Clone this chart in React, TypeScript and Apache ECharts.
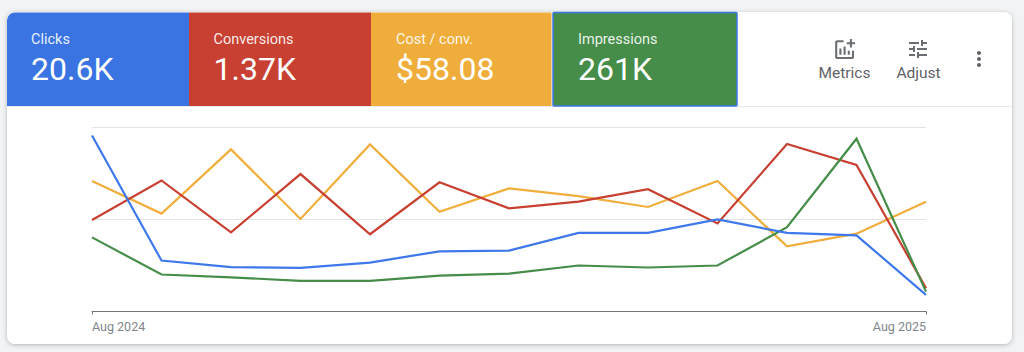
import React, { useEffect, useRef } from "react";
import * as echarts from "echarts";

const categories = ["Aug 2024","Sep 2024","Oct 2024","Nov 2024","Dec 2024","Jan 2025","Feb 2025","Mar 2025","Apr 2025","May 2025","Jun 2025","Jul 2025","Aug 2025"];
const clicks = [95.7,27.7,24.1,23.7,26.6,32.7,33.1,42.7,42.7,50.1,42.7,41.4,9.0];
const conversions = [49.7,71.2,43.0,74.7,42.0,70.2,56.1,59.7,66.5,47.9,91.0,79.6,12.7];
const costPerConv = [70.9,53.2,88.1,50.3,90.8,54.2,66.9,62.7,56.8,70.9,35.4,42.3,59.7];
const impressions = [40.3,20.1,18.6,16.6,16.6,19.5,20.6,25.0,23.9,25.0,45.8,93.9,10.8];
const tileLabels = ["Clicks","Conversions","Cost / conv.","Impressions"];
const tileValues = ["20.6K","1.37K","$58.08","261K"];
const tileColors = ["#3974e2","#c84032","#efae3c","#458d49"];
const lineColors = ["#3f78ea","#c84032","#f0ae3c","#458d49"];
const tools = ["Metrics","Adjust"];

const ADD_CHART = "M22 5v2h-3v3h-2V7h-3V5h3V2h2v3h3zm-3 14H5V5h6V3H5c-1.1 0-2 .9-2 2v14c0 1.1.9 2 2 2h14c1.1 0 2-.9 2-2v-6h-2v6zm-4-6v4h2v-4h-2zm-4 4h2V9h-2v8zm-2 0v-6H7v6h2z";
const TUNE = "M3 17v2h6v-2H3zM3 5v2h10V5H3zm10 16v-2h8v-2h-8v-2h-2v6h2zM7 9v2H3v2h4v2h2V9H7zm14 4v-2H11v2h10zm-6-4h2V7h4V5h-4V3h-2v6z";
const MORE = "M12 8c1.1 0 2-.9 2-2s-.9-2-2-2-2 .9-2 2 .9 2 2 2zm0 2c-1.1 0-2 .9-2 2s.9 2 2 2 2-.9 2-2-.9-2-2-2zm0 6c-1.1 0-2 .9-2 2s.9 2 2 2 2-.9 2-2-.9-2-2-2z";
echarts.graphic.registerShape("addChartIcon", echarts.graphic.extendPath(ADD_CHART, {}));
echarts.graphic.registerShape("tuneIcon", echarts.graphic.extendPath(TUNE, {}));
echarts.graphic.registerShape("moreIcon", echarts.graphic.extendPath(MORE, {}));

const FONT = "Roboto";
const tileX = [7, 189, 371, 553];
const tileW = [182, 182, 180.5, 184];
const textX = [31, 213.5, 396, 578];

export default function App() {
  const ref = useRef<HTMLDivElement>(null);
  useEffect(() => {
    const chart = echarts.init(ref.current!, null, { renderer: "svg" });
    const graphic: any[] = [
      { type: "rect", z: -10, shape: { x: 7, y: 12, width: 1005, height: 332, r: 8 },
        style: { fill: "#ffffff", shadowBlur: 4, shadowColor: "rgba(60,64,67,0.35)", shadowOffsetY: 1 } },
      { type: "line", z: -9, shape: { x1: 7, y1: 106.5, x2: 1012, y2: 106.5 }, style: { stroke: "#e8eaed", lineWidth: 1 } },
    ];
    tileLabels.forEach((label, i) => {
      graphic.push({
        type: "rect", z: -8,
        shape: { x: tileX[i], y: 12.5, width: tileW[i], height: 93.5, r: i === 0 ? [8, 0, 0, 0] : i === 3 ? 1 : 0 },
        style: i === 3
          ? { fill: tileColors[i], stroke: "#3d78e6", lineWidth: 1.5 }
          : { fill: tileColors[i] },
      });
      graphic.push({ type: "text", z: 5, x: textX[i], y: 39,
        style: { text: label, font: `400 14.5px ${FONT}`, fill: "rgba(255,255,255,0.9)", verticalAlign: "middle", textAlign: "left" } });
      graphic.push({ type: "text", z: 5, x: textX[i], y: 69,
        style: { text: tileValues[i], font: `400 32px ${FONT}`, fill: "#ffffff", verticalAlign: "middle", textAlign: "left" } });
    });
    graphic.push({ type: "addChartIcon", x: 832, y: 37, scaleX: 1.05, scaleY: 1.05, style: { fill: "#6a6e73" } });
    graphic.push({ type: "tuneIcon", x: 906, y: 37, scaleX: 1, scaleY: 1, style: { fill: "#6a6e73" } });
    graphic.push({ type: "moreIcon", x: 967, y: 47, scaleX: 1, scaleY: 1, style: { fill: "#5f6368" } });
    graphic.push({ type: "text", z: 5, x: 844.5, y: 73, style: { text: tools[0], font: `400 15.5px ${FONT}`, fill: "#5f6368", textAlign: "center", verticalAlign: "middle" } });
    graphic.push({ type: "text", z: 5, x: 918.5, y: 73, style: { text: tools[1], font: `400 15.5px ${FONT}`, fill: "#5f6368", textAlign: "center", verticalAlign: "middle" } });

    const mk = (name: string, data: number[], color: string) => ({
      name, type: "line", data, showSymbol: false, symbol: "none", smooth: false, z: 3,
      lineStyle: { color, width: 2.2, join: "miter" }, clip: true,
    });
    chart.setOption({
      animation: false,
      backgroundColor: "#f1f3f4",
      graphic,
      grid: { left: 92, right: 98, top: 127.5, bottom: 40.5, containLabel: false },
      xAxis: {
        type: "category", data: categories, boundaryGap: false,
        axisLine: { lineStyle: { color: "#757575", width: 1 } },
        axisTick: { show: true, length: 3, lineStyle: { color: "#757575" }, interval: (i: number) => i === 0 || i === categories.length - 1 },
        axisLabel: {
          color: "#80868b", fontFamily: FONT, fontSize: 12.5, margin: 8, showMinLabel: true, showMaxLabel: true,
          interval: (i: number) => i === 0 || i === categories.length - 1,
          alignMinLabel: "left", alignMaxLabel: "right",
        },
        splitLine: { show: false },
      },
      yAxis: {
        type: "value", min: 0, max: 100, interval: 50,
        axisLine: { show: false }, axisTick: { show: false }, axisLabel: { show: false },
        splitLine: { show: true, lineStyle: { color: "#e3e4e6", width: 1 } },
      },
      series: [
        mk("Cost / conv.", costPerConv, lineColors[2]),
        mk("Conversions", conversions, lineColors[1]),
        mk("Impressions", impressions, lineColors[3]),
        mk("Clicks", clicks, lineColors[0]),
      ],
    });
    return () => chart.dispose();
  }, []);
  return <div ref={ref} style={{ position: "fixed", left: 0, top: 0, width: 1024, height: 352 }} />;
}
